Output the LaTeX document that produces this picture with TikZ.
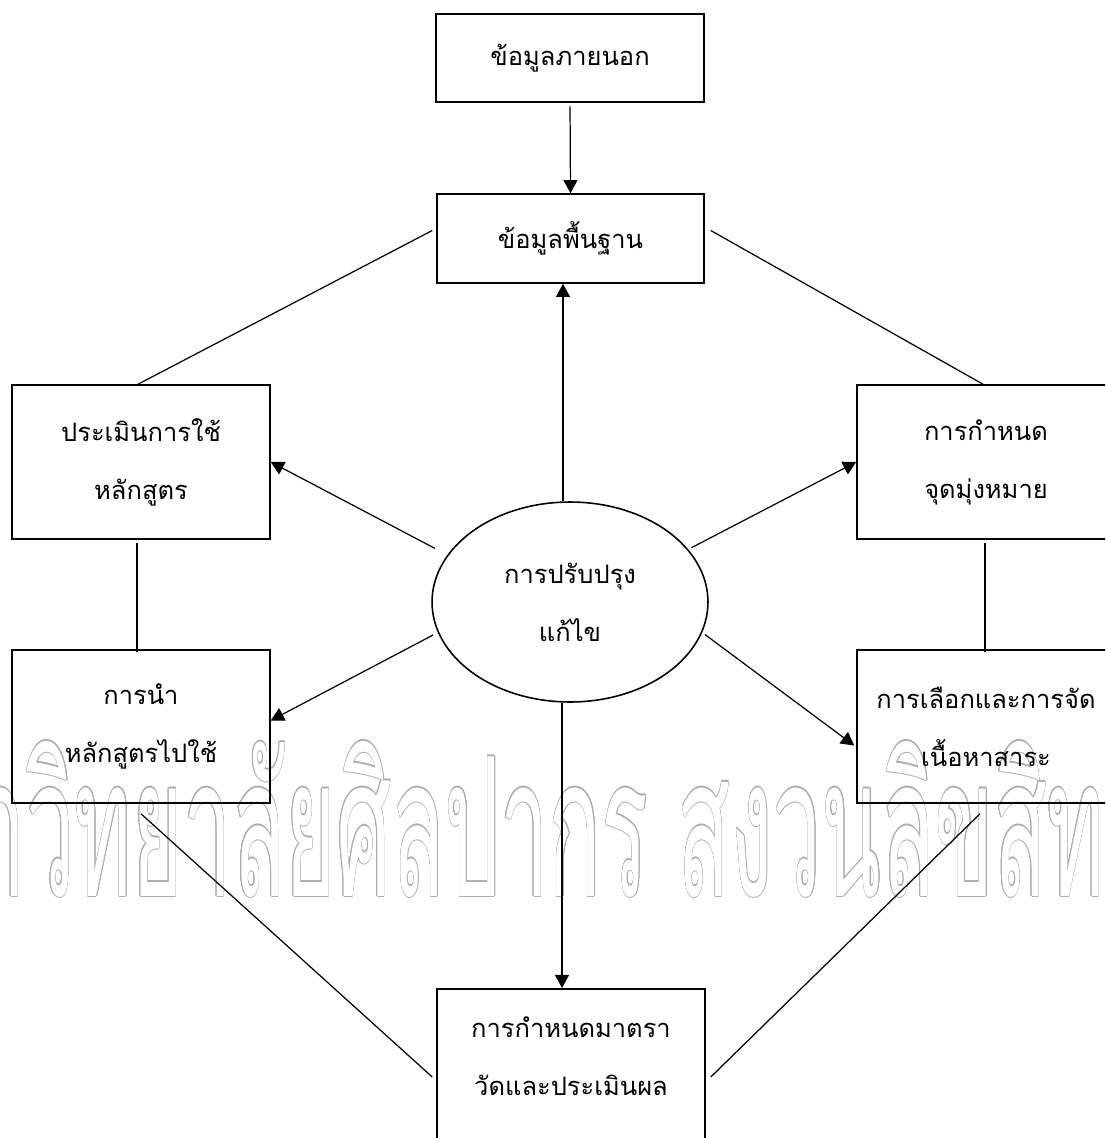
\documentclass[tikz,border=0pt]{standalone}
\usepackage{fontspec}
\newfontfamily\thaifont[Script=Thai]{Loma}
\usepackage{contour}
\contourlength{0.6pt}
\usetikzlibrary{calc, shapes.geometric, arrows.meta}

\tikzset{
  box/.style={draw, line width=0.9pt, minimum width=5.16cm, minimum height=3.08cm,
    align=center, font={\thaifont\fontsize{14.5}{33}\selectfont}},
  arr/.style={-{Triangle[length=7.5pt,width=8pt]}, line width=0.7pt},
  link/.style={line width=0.7pt},
}

\begin{document}
\begin{tikzpicture}[x=0.02cm, y=-0.02cm]
    \useasboundingbox (0,0) rectangle (1105,1138);
    \clip (0,0) rectangle (1105,1138);

    % watermark
    \node[anchor=base, text=white, inner sep=0pt] (mark) at (510,896)
      {\scalebox{0.45}[1]{\thaifont\fontsize{110}{110}\selectfont\contour{black!32}{มหาวิทยาลัยศิลปากร สงวนลิขสิทธิ์}}};

    \node[box, minimum width=5.36cm, minimum height=1.76cm] (ext) at (570,58) {ข้อมูลภายนอก};
    \node[box, minimum width=5.34cm, minimum height=1.78cm] (base) at (570.5,238.5) {ข้อมูลพื้นฐาน};
    \node[box] (evalu) at (141,462) {ประเมินการใช้\\หลักสูตร};
    \node[box] (goal) at (986,462) {การกำหนด\\จุดมุ่งหมาย};
    \node[box, minimum height=3.06cm] (use) at (141,726.5) {การนำ\\หลักสูตรไปใช้};
    \node[box, minimum height=3.06cm] (content) at (986,726.5) {การเลือกและการจัด\\เนื้อหาสาระ};
    \node[box, minimum width=5.36cm, anchor=north, text depth=3cm, inner ysep=0.55cm] (measure) at (571,988)
      {การกำหนดมาตรา\\วัดและประเมินผล};
    \node[ellipse, draw, line width=0.9pt, minimum width=5.52cm, minimum height=4cm,
      align=center, font={\thaifont\fontsize{14.5}{33}\selectfont}] (fix) at (570,602)
      {การปรับปรุง\\แก้ไข};

    % arrows
    \draw[arr, shorten <=2pt] (ext.south) -- (base.north);
    \draw[arr] ($(fix.north)+(-7,0)$) -- ($(base.south)+(-7.5,0)$);
    \draw[arr] ($(fix.south)+(-8,0)$) -- ($(measure.north)+(-9,0)$);
    \draw[arr, shorten <=8pt] (fix.159) -- (evalu.east);
    \draw[arr, shorten <=3pt] (fix.193) -- ($(use.east)+(0,-6)$);
    \draw[arr, shorten <=2pt] (fix.24) -- (goal.west);
    \draw[arr, shorten <=2pt] (fix.347) -- ($(content.west)+(-2,19)$);

    % plain links
    \draw[link] ($(base.west)+(-4,-8)$) -- ($(evalu.north)+(-3,0)$);
    \draw[link] ($(base.east)+(6,-8)$) -- ($(goal.north)+(-3,0)$);
    \draw[link] ($(evalu.south)+(-4,3)$) -- ($(use.north)+(-4,3)$);
    \draw[link] ($(goal.south)+(-1,3)$) -- ($(content.north)+(-1,3)$);
    \draw[link] ($(use.south)+(0,10)$) -- ($(measure.north west)+(-4,89)$);
    \draw[link] ($(content.south)+(-6,10)$) -- ($(measure.north east)+(5,89)$);
\end{tikzpicture}
\end{document}
